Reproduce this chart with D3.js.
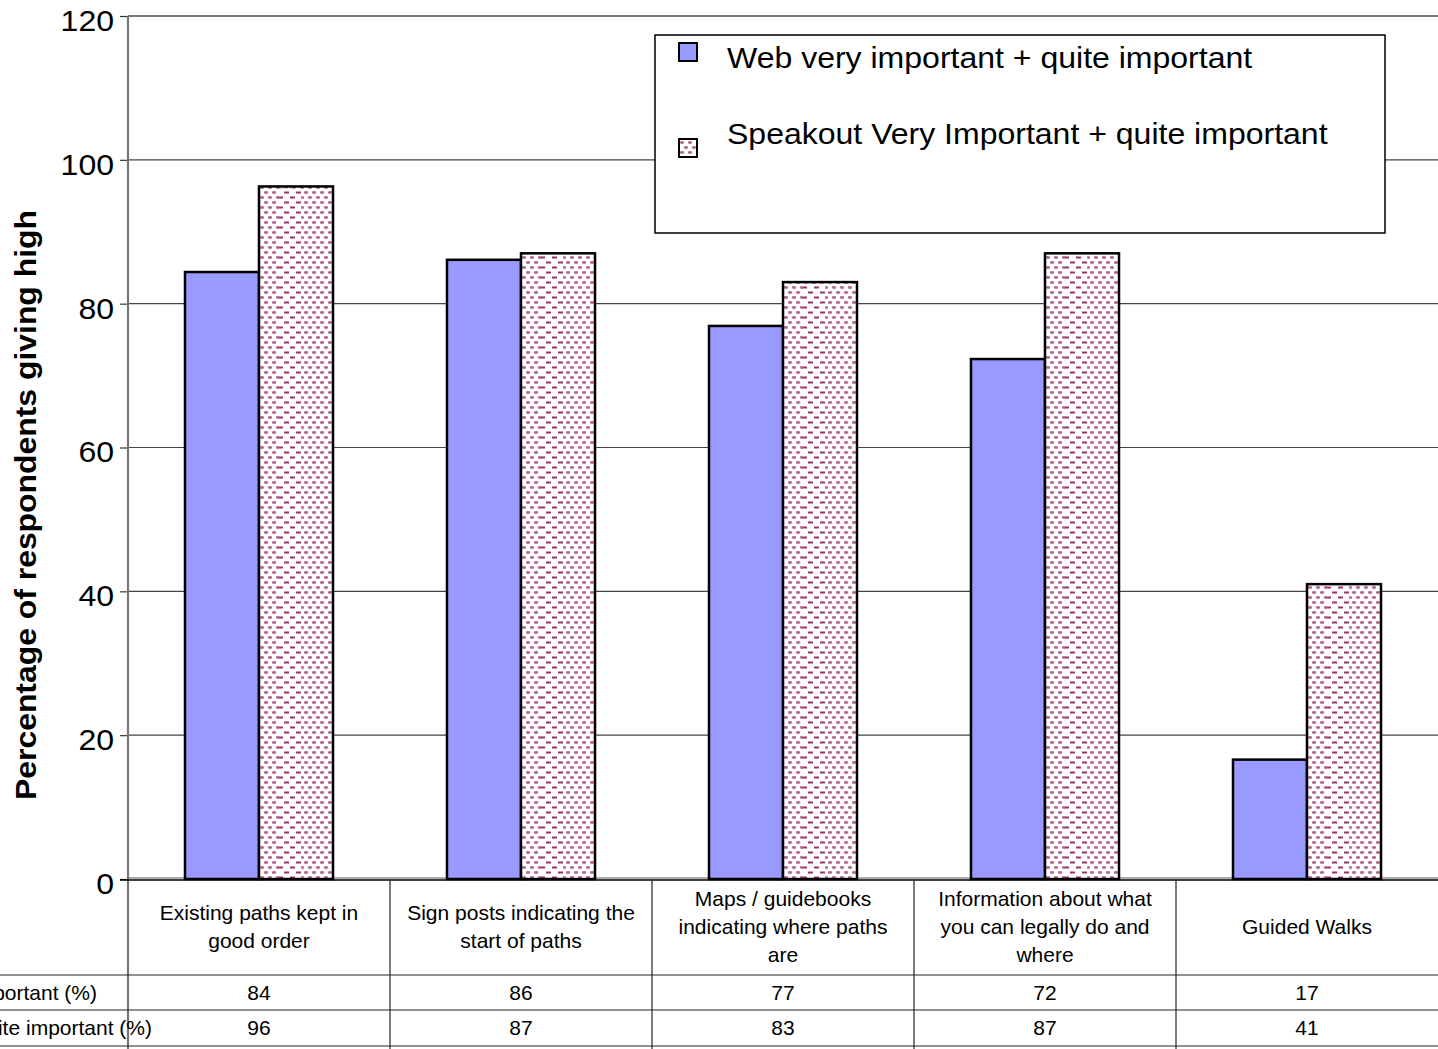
<!DOCTYPE html>
<html><head><meta charset="utf-8">
<script src="https://cdn.jsdelivr.net/npm/d3@7"></script>
<style>
html,body{margin:0;padding:0;background:#fff;}
svg{display:block;font-family:"Liberation Sans",Arial,sans-serif;}
</style></head>
<body>
<svg id="chart" width="1438" height="1049"></svg>
<script>
const categories = [
  "Existing paths kept in\ngood order",
  "Sign posts indicating the\nstart of paths",
  "Maps / guidebooks\nindicating where paths\nare",
  "Information about what\nyou can legally do and\nwhere",
  "Guided Walks"
];
const seriesNames = [
  "Web very important + quite important",
  "Speakout Very Important + quite important"
];
const rowLabels = [
  "Web very important + quite important (%)",
  "Speakout Very Important + quite important (%)"
];
const webValues = [84.4, 86.1, 76.9, 72.3, 16.6];
const speakoutValues = [96.3, 87.0, 83.0, 87.0, 41.0];
const webTable = [84, 86, 77, 72, 17];
const speakoutTable = [96, 87, 83, 87, 41];
const yTicks = [0, 20, 40, 60, 80, 100, 120];
const yTitle = "Percentage of respondents giving high";

(function(){
const svg = d3.select("#chart");
const W = 1438, H = 1049;
const pLeft = 128, pRight = 1438, pTop = 16, pBottom = 879;
const stretch = 1.067;
function widen(sel){
  sel.each(function(){
    const w = this.getComputedTextLength();
    d3.select(this).attr("textLength", w*stretch).attr("lengthAdjust","spacingAndGlyphs");
  });
  return sel;
}

const defs = svg.append("defs");
const pat = defs.append("pattern").attr("id","dots").attr("patternUnits","userSpaceOnUse")
  .attr("width",8).attr("height",10);
pat.append("rect").attr("width",8).attr("height",10).attr("fill","#fff");
pat.append("ellipse").attr("cx",2).attr("cy",2.5).attr("rx",2.3).attr("ry",1.4).attr("fill","#b56a95");
pat.append("ellipse").attr("cx",6).attr("cy",7.5).attr("rx",2.3).attr("ry",1.4).attr("fill","#b56a95");
const pat2 = defs.append("pattern").attr("id","dashes").attr("patternUnits","userSpaceOnUse")
  .attr("width",12).attr("height",10);
pat2.append("rect").attr("width",12).attr("height",10).attr("fill","#fff");
pat2.append("rect").attr("x",0).attr("y",1.5).attr("width",5).attr("height",2).attr("fill","#993366");
pat2.append("rect").attr("x",6).attr("y",6.5).attr("width",5).attr("height",2).attr("fill","#993366");

const x0 = d3.scaleBand().domain(d3.range(categories.length)).range([pLeft, pRight]).paddingInner(0).paddingOuter(0);
const x1 = d3.scaleBand().domain([0,1]).range([0, x0.bandwidth()]).paddingInner(0).paddingOuter(0.77);
const y = d3.scaleLinear().domain([0,120]).range([pBottom, pTop]);

// gridlines
svg.append("g").selectAll("line").data(yTicks.filter(t => t > 0 && t < 120)).join("line")
  .attr("x1", pLeft).attr("x2", W).attr("y1", d => y(d)).attr("y2", d => y(d))
  .attr("stroke","#444").attr("stroke-width",1.2);

// plot area top / bottom
svg.append("line").attr("x1",pLeft).attr("x2",W).attr("y1",y(120)).attr("y2",y(120)).attr("stroke","#777").attr("stroke-width",2);
svg.append("line").attr("x1",pLeft).attr("x2",W).attr("y1",y(0)-1).attr("y2",y(0)-1).attr("stroke","#aaa").attr("stroke-width",2);

// y axis
const yAxis = d3.axisLeft(y).tickValues(yTicks).tickSize(8).tickPadding(6);
const ga = svg.append("g").attr("transform",`translate(${pLeft},0)`).call(yAxis);
ga.select(".domain").remove();
ga.selectAll(".tick line").attr("stroke","#333").attr("stroke-width",1.2);
ga.selectAll(".tick text").attr("font-size",30).attr("font-family","Liberation Sans, Arial, sans-serif").attr("fill","#000").attr("dy","0.48em");
widen(ga.selectAll(".tick text"));
svg.append("line").attr("x1",pLeft).attr("x2",pLeft).attr("y1",y(120)).attr("y2",H).attr("stroke","#777").attr("stroke-width",2.2);

// y title
svg.append("text").attr("transform",`translate(36,505) rotate(-90)`)
  .attr("text-anchor","middle").attr("font-size",29).attr("font-weight","bold").text(yTitle)
  .attr("textLength",590).attr("lengthAdjust","spacingAndGlyphs");

// bars
const groups = svg.append("g").selectAll("g").data(categories.map((c,i)=>i)).join("g")
  .attr("transform", i => `translate(${x0(i)},0)`);
groups.append("rect")
  .attr("x", x1(0)).attr("width", x1.bandwidth())
  .attr("y", i => y(webValues[i])).attr("height", i => y(0) - y(webValues[i]))
  .attr("fill","#9999FF").attr("stroke","#000").attr("stroke-width",2.5);
groups.append("rect")
  .attr("x", x1(1)).attr("width", x1.bandwidth())
  .attr("y", i => y(speakoutValues[i])).attr("height", i => y(0) - y(speakoutValues[i]))
  .attr("fill","url(#dots)");
groups.append("rect")
  .attr("x", x1(1) + x1.bandwidth()*0.27).attr("width", x1.bandwidth()*0.3)
  .attr("y", i => y(speakoutValues[i])+2).attr("height", i => y(0) - y(speakoutValues[i]) - 2)
  .attr("fill","url(#dashes)");
groups.append("rect")
  .attr("x", x1(1)).attr("width", x1.bandwidth())
  .attr("y", i => y(speakoutValues[i])).attr("height", i => y(0) - y(speakoutValues[i]))
  .attr("fill","none").attr("stroke","#000").attr("stroke-width",2.5);

// x axis line
svg.append("line").attr("x1",pLeft-8).attr("x2",W).attr("y1",y(0)+1).attr("y2",y(0)+1).attr("stroke","#000").attr("stroke-width",1.5);

// data table
const rowY = [975, 1010, 1046];
rowY.forEach(ry => svg.append("line").attr("x1",0).attr("x2",W).attr("y1",ry).attr("y2",ry).attr("stroke","#222").attr("stroke-width",1.2));
categories.forEach((c,i) => {
  if (i > 0) svg.append("line").attr("x1",x0(i)).attr("x2",x0(i)).attr("y1",y(0)+1).attr("y2",H).attr("stroke","#222").attr("stroke-width",1.2);
});
const tableFont = 21;
categories.forEach((c,i) => {
  const lines = c.split("\n");
  const cx = x0(i) + x0.bandwidth()/2;
  const lh = 28;
  const cy = 926.5;
  const t = svg.append("text").attr("text-anchor","middle").attr("font-size",tableFont);
  lines.forEach((ln,k) => {
    t.append("tspan").attr("x",cx).attr("y", cy + (k - (lines.length-1)/2)*lh + 7.5).text(ln);
  });
});
[webTable, speakoutTable].forEach((arr,r) => {
  const by = r === 0 ? 999.5 : 1034.5;
  arr.forEach((v,i) => {
    svg.append("text").attr("x", x0(i) + x0.bandwidth()/2).attr("y", by)
      .attr("text-anchor","middle").attr("font-size",tableFont).text(v);
  });
});
// row labels (clipped at left edge, as in the reference)
svg.append("text").attr("font-size",tableFont).attr("text-anchor","end").attr("x",97).attr("y",999.5).text(rowLabels[0]);
svg.append("text").attr("font-size",tableFont).attr("text-anchor","end").attr("x",152).attr("y",1034.5).text(rowLabels[1]);

// legend
const lg = svg.append("g");
lg.append("rect").attr("x",655).attr("y",35).attr("width",730).attr("height",198)
  .attr("fill","#fff").attr("stroke","#000").attr("stroke-width",1.5);
lg.append("rect").attr("x",679).attr("y",43).attr("width",18).attr("height",18)
  .attr("fill","#9999FF").attr("stroke","#000").attr("stroke-width",2);
lg.append("rect").attr("x",679).attr("y",139).attr("width",18).attr("height",18)
  .attr("fill","url(#dots)").attr("stroke","#000").attr("stroke-width",2);
widen(lg.append("text").attr("x",727).attr("y",68).attr("font-size",30).text(seriesNames[0]));
widen(lg.append("text").attr("x",727).attr("y",144).attr("font-size",30).text(seriesNames[1]));
})();
</script>
</body></html>
